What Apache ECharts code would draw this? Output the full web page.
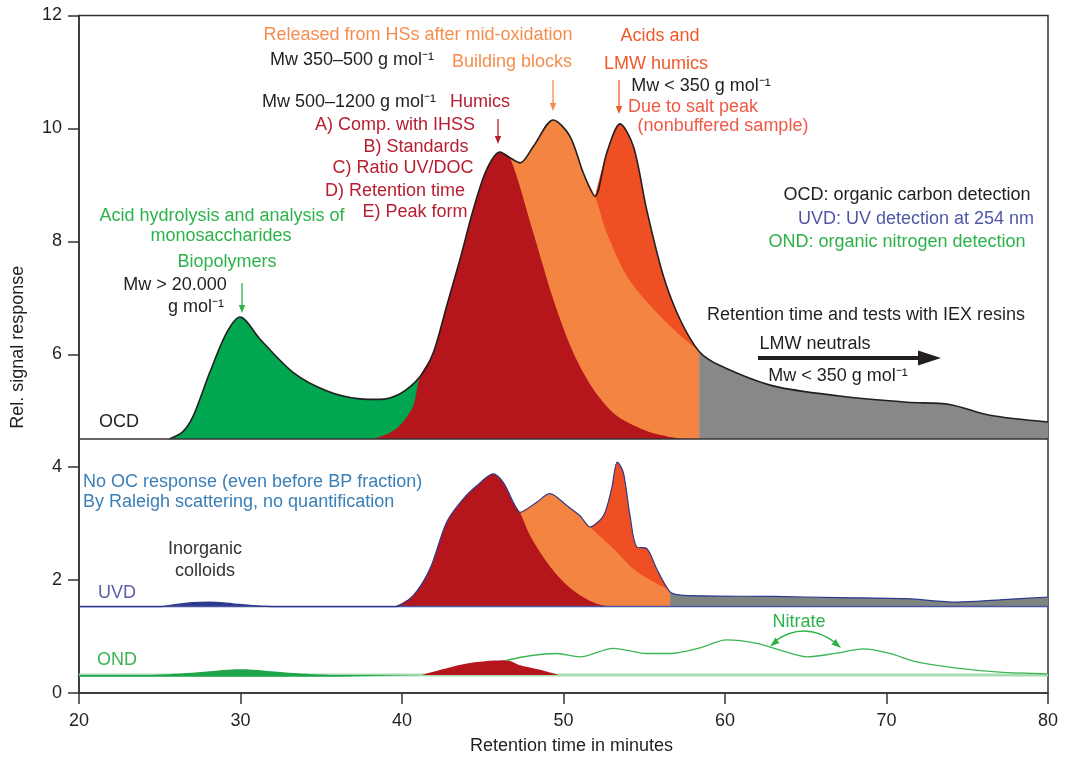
<!DOCTYPE html>
<html>
<head>
<meta charset="utf-8">
<title>OCD / UVD / OND chromatogram</title>
<script src="https://cdn.jsdelivr.net/npm/echarts@6/dist/echarts.min.js"></script>
<style>
  html, body { margin: 0; background: #fff; }
  #chart { width: 1072px; height: 760px; }
</style>
</head>
<body>
<div id="chart"></div>
<script>
// baselines of the three detector traces
const ocdBase = 4.5;
const uvdBase = 1.53;
const ondBase = 0.32;

// OCD trace (organic carbon)
const ocdTime = [25.6, 26.4, 27.06, 28.1, 29.16, 29.97, 31.2, 33.25, 35.36, 37.4, 38.6, 39.88, 41.11, 41.94, 42.77, 43.59, 44.41, 45.24, 46.07, 46.69, 47.31, 48.13, 49.37, 50.4, 51.23, 51.95, 52.68, 53.5, 54.33, 55.15, 56.18, 57.21, 58.4, 59.69, 62.97, 67.1, 71.27, 73.9, 76.4, 80];
const ocdSignal = [4.5, 4.62, 4.9, 5.68, 6.39, 6.66, 6.27, 5.68, 5.35, 5.21, 5.2, 5.3, 5.6, 6.03, 6.86, 7.68, 8.56, 9.27, 9.58, 9.48, 9.39, 9.68, 10.15, 9.86, 9.21, 8.8, 9.57, 10.08, 9.68, 8.56, 7.39, 6.62, 6.05, 5.8, 5.44, 5.26, 5.15, 5.11, 4.92, 4.8];
// fraction borders inside the OCD peak
const ocdHumicsStartTime = [38.2, 39.2, 39.9, 40.7];
const ocdHumicsStartSignal = [4.5, 4.6, 4.75, 5.09];
const ocdHumicsEndTime = [48.13, 49.37, 50.6, 51.85, 53.3, 55.36, 57.4];
const ocdHumicsEndSignal = [8.15, 6.97, 6.03, 5.38, 4.91, 4.62, 4.5];
const ocdBlocksEndTime = [52.68, 53.91, 55.56, 57.01, 58.24];
const ocdBlocksEndSignal = [8.15, 7.39, 6.8, 6.39, 6.09];
const ocdCut = { bio: 41.11, humics: 46.69, blocks: 51.95, neutrals: 58.4 };

// UVD trace (UV 254 nm)
const uvdTime = [20, 25.0, 25.84, 27, 28.1, 29.5, 31.2, 33, 39.57, 40.7, 41.73, 42.77, 43.8, 44.63, 45.65, 46.27, 46.89, 47.3, 48.34, 49.16, 50.2, 51.02, 51.64, 52.47, 52.98, 53.33, 53.7, 54.12, 54.53, 55.15, 55.77, 56.6, 57.42, 62.99, 67, 71.25, 74.35, 77, 80];
const uvdSignal = [1.53, 1.53, 1.56, 1.6, 1.61, 1.58, 1.54, 1.53, 1.53, 1.73, 2.2, 3.03, 3.44, 3.67, 3.88, 3.73, 3.38, 3.2, 3.38, 3.53, 3.32, 3.14, 2.94, 3.14, 3.62, 4.09, 3.91, 3.14, 2.59, 2.56, 2.2, 1.79, 1.73, 1.71, 1.69, 1.67, 1.61, 1.65, 1.7];
const uvdHumicsEndTime = [47.93, 48.96, 49.99, 51.02, 52.06, 52.88];
const uvdHumicsEndSignal = [2.79, 2.32, 1.97, 1.73, 1.58, 1.53];
const uvdBlocksEndTime = [53.08, 54.32, 55.56, 56.39];
const uvdBlocksEndSignal = [2.56, 2.2, 1.97, 1.85];
const uvdCut = { colloidsFrom: 25.0, colloidsTo: 33, humicsFrom: 39.57, humics: 47.3, blocks: 51.64, neutrals: 56.6 };

// OND trace (organic nitrogen)
const ondTime = [20, 24, 27, 30, 33, 36, 41.22, 42.77, 44.2, 45.45, 46.48, 47.93, 49.58, 51.02, 53.08, 55.15, 56.6, 58.45, 60.1, 61.96, 63.5, 65.06, 66.8, 68.57, 70.2, 71.87, 74.35, 77.0, 80];
const ondSignal = [0.32, 0.32, 0.36, 0.42, 0.36, 0.32, 0.32, 0.44, 0.53, 0.57, 0.58, 0.66, 0.7, 0.64, 0.79, 0.7, 0.7, 0.8, 0.94, 0.88, 0.75, 0.64, 0.7, 0.78, 0.7, 0.55, 0.44, 0.37, 0.34];
const ondHumicsEndTime = [47.31, 48.55, 49.68];
const ondHumicsEndSignal = [0.49, 0.41, 0.32];
const ondCut = { bio: 41.22, humicsTop: 46.48 };

const timeTicks = [20, 30, 40, 50, 60, 70, 80];

const C = {
  ink: '#231f20',
  green: '#00a650',
  red: '#b5161b',
  orange: '#f38442',
  acid: '#ee5024',
  gray: '#878888',
  uvGray: '#7e8581',
  navy: '#2e3a8c',
  textOrange: '#f68d4e',
  textAcid: '#f05a2a',
  textSalt: '#ef5a46',
  textRed: '#b81d30',
  textGreen: '#2db24b',
  textBlue: '#3a7fb8',
  textUvd: '#5058a6'
};
const FONT = '18px "Liberation Sans", Arial, Helvetica, sans-serif';

const pairs = (t, v) => t.map((x, i) => [x, v[i]]);
const part = (t, v, from, to) => pairs(t, v).filter(p => p[0] >= from && p[0] <= to);

let zi = 1;
function area(name, data, color, base) {
  return {
    name, type: 'line', data, smooth: 0.3, showSymbol: false, silent: true,
    lineStyle: { width: 0 },
    areaStyle: { color, opacity: 1, origin: base },
    z: zi++
  };
}
function trace(name, data, color, width) {
  return {
    name, type: 'line', data, smooth: 0.3, showSymbol: false, silent: true,
    lineStyle: { color, width }, z: zi++
  };
}

const series = [
  // OCD fractions
  area('Biopolymers', part(ocdTime, ocdSignal, 0, ocdCut.bio), C.green, ocdBase),
  area('Acids', part(ocdTime, ocdSignal, ocdCut.blocks, ocdCut.neutrals), C.acid, ocdBase),
  area('Building blocks', part(ocdTime, ocdSignal, ocdCut.humics, ocdCut.blocks)
    .concat(pairs(ocdBlocksEndTime, ocdBlocksEndSignal), [[ocdCut.neutrals, ocdSignal[ocdTime.indexOf(ocdCut.neutrals)]]]), C.orange, ocdBase),
  area('Humics', pairs(ocdHumicsStartTime, ocdHumicsStartSignal)
    .concat(part(ocdTime, ocdSignal, ocdCut.bio, ocdCut.humics), pairs(ocdHumicsEndTime, ocdHumicsEndSignal)), C.red, ocdBase),
  area('LMW neutrals', part(ocdTime, ocdSignal, ocdCut.neutrals, 80), C.gray, ocdBase),
  trace('OCD', pairs(ocdTime, ocdSignal), C.ink, 1.6),

  // UVD fractions
  area('Inorganic colloids', part(uvdTime, uvdSignal, uvdCut.colloidsFrom, uvdCut.colloidsTo), '#2b3990', uvdBase),
  area('UVD acids', part(uvdTime, uvdSignal, uvdCut.blocks, uvdCut.neutrals), C.acid, uvdBase),
  area('UVD building blocks', part(uvdTime, uvdSignal, uvdCut.humics, uvdCut.blocks)
    .concat(pairs(uvdBlocksEndTime, uvdBlocksEndSignal), [[uvdCut.neutrals, uvdSignal[uvdTime.indexOf(uvdCut.neutrals)]]]), C.orange, uvdBase),
  area('UVD humics', part(uvdTime, uvdSignal, uvdCut.humicsFrom, uvdCut.humics)
    .concat(pairs(uvdHumicsEndTime, uvdHumicsEndSignal)), C.red, uvdBase),
  area('UVD neutrals', part(uvdTime, uvdSignal, uvdCut.neutrals, 80), C.uvGray, uvdBase),
  trace('UVD base', [[20, uvdBase], [80, uvdBase]], '#4a55a2', 1.5),
  trace('UVD', pairs(uvdTime, uvdSignal), C.navy, 1.2),

  // OND
  trace('OND base', [[20, ondBase], [80, ondBase]], '#a9dbb2', 3),
  area('OND biopolymers', part(ondTime, ondSignal, 0, ondCut.bio), '#1fa64c', ondBase - 0.03),
  area('OND humics', part(ondTime, ondSignal, ondCut.bio, ondCut.humicsTop)
    .concat(pairs(ondHumicsEndTime, ondHumicsEndSignal)), C.red, ondBase),
  trace('OND', part(ondTime, ondSignal, ondCut.humicsTop, 80), '#3db552', 1.3),

  // separator between OCD and UVD/OND panels
  trace('separator', [[20, ocdBase], [80, ocdBase]], '#333', 1.5)
];

function label(text, x, y, fill, align) {
  return {
    type: 'text', silent: true, z: 100,
    style: {
      text, x, y, fill, font: FONT,
      textAlign: align || 'center', align: align || 'center',
      textVerticalAlign: 'middle', verticalAlign: 'middle'
    }
  };
}
function downArrow(x, y1, y2, color) {
  return [
    { type: 'line', silent: true, z: 100, shape: { x1: x, y1, x2: x, y2: y2 - 6 }, style: { stroke: color, lineWidth: 1.3 } },
    { type: 'polygon', silent: true, z: 100, shape: { points: [[x - 3.2, y2 - 8], [x + 3.2, y2 - 8], [x, y2]] }, style: { fill: color } }
  ];
}

const graphics = [
  label('Released from HSs after mid-oxidation', 418, 35, C.textOrange),
  label('Mw 350–500 g mol⁻¹', 352, 60, C.ink),
  label('Building blocks', 512, 62, C.textOrange),
  label('Mw 500–1200 g mol⁻¹', 349, 102, C.ink),
  label('Humics', 480, 102, C.textRed),
  label('A) Comp. with IHSS', 395, 125, C.textRed),
  label('B) Standards', 416, 147, C.textRed),
  label('C) Ratio UV/DOC', 403, 168, C.textRed),
  label('D) Retention time', 395, 191, C.textRed),
  label('E) Peak form', 415, 212, C.textRed),
  label('Acid hydrolysis and analysis of', 222, 216, C.textGreen),
  label('monosaccharides', 221, 236, C.textGreen),
  label('Biopolymers', 227, 262, C.textGreen),
  label('Mw > 20.000', 175, 285, C.ink),
  label('g mol⁻¹', 196, 307, C.ink),
  label('OCD', 119, 422, C.ink),
  label('Acids and', 660, 36, C.textAcid),
  label('LMW humics', 656, 64, C.textAcid),
  label('Mw < 350 g mol⁻¹', 701, 86, C.ink),
  label('Due to salt peak', 693, 107, C.textSalt),
  label('(nonbuffered sample)', 723, 126, C.textSalt),
  label('OCD: organic carbon detection', 907, 195, C.ink),
  label('UVD: UV detection at 254 nm', 916, 219, C.textUvd),
  label('OND: organic nitrogen detection', 897, 242, C.textGreen),
  label('Retention time and tests with IEX resins', 866, 315, C.ink),
  label('LMW neutrals', 815, 344, C.ink),
  label('Mw < 350 g mol⁻¹', 838, 376, C.ink),
  label('No OC response (even before BP fraction)', 83, 482, C.textBlue, 'left'),
  label('By Raleigh scattering, no quantification', 83, 502, C.textBlue, 'left'),
  label('Inorganic', 205, 549, '#333'),
  label('colloids', 205, 571, '#333'),
  label('UVD', 117, 593, '#5b5ea6'),
  label('OND', 117, 660, '#3cb550'),
  label('Nitrate', 799, 622, C.textGreen),
  ...downArrow(242, 283, 313, C.textGreen),
  ...downArrow(498, 119, 144, C.textRed),
  ...downArrow(553, 80, 111, C.textOrange),
  ...downArrow(619, 80, 114, C.textAcid),
  // LMW neutrals arrow
  { type: 'line', silent: true, z: 100, shape: { x1: 758, y1: 358, x2: 922, y2: 358 }, style: { stroke: C.ink, lineWidth: 4 } },
  { type: 'polygon', silent: true, z: 100, shape: { points: [[918, 350.5], [941, 358], [918, 365.5]] }, style: { fill: C.ink } },
  // nitrate double arrow
  { type: 'bezierCurve', silent: true, z: 100, shape: { x1: 775, y1: 641, x2: 836, y2: 643, cpx1: 805, cpy1: 620 }, style: { stroke: C.textGreen, lineWidth: 1.3, fill: 'none' } },
  { type: 'polygon', silent: true, z: 100, shape: { points: [[770, 646.5], [775.5, 637.5], [779.5, 643]] }, style: { fill: C.textGreen } },
  { type: 'polygon', silent: true, z: 100, shape: { points: [[841, 648], [831.5, 644.5], [835.7, 638.9]] }, style: { fill: C.textGreen } }
];

const chart = echarts.init(document.getElementById('chart'), null, { renderer: 'canvas' });
chart.setOption({
  backgroundColor: '#fff',
  animation: false,
  textStyle: { fontFamily: '"Liberation Sans", Arial, Helvetica, sans-serif' },
  grid: { left: 79, right: 24, top: 15.5, bottom: 65.3, show: true, borderColor: '#333', borderWidth: 1.5, backgroundColor: 'transparent' },
  xAxis: {
    type: 'value', min: timeTicks[0], max: timeTicks[timeTicks.length - 1], interval: 10,
    name: 'Retention time in minutes', nameLocation: 'middle', nameGap: 44,
    nameTextStyle: { fontSize: 18, color: C.ink, padding: [0, 0, 0, 16] },
    axisLine: { lineStyle: { color: '#333', width: 1.5 } },
    axisTick: { length: 11, lineStyle: { color: '#333', width: 1.5 } },
    axisLabel: { fontSize: 18, color: C.ink, margin: 19 },
    splitLine: { show: false }
  },
  yAxis: {
    type: 'value', min: 0, max: 12, interval: 2,
    name: 'Rel. signal response', nameLocation: 'middle', nameGap: 52,
    nameTextStyle: { fontSize: 18, color: C.ink, padding: [0, 0, 0, 14] },
    axisLine: { lineStyle: { color: '#333', width: 1.5 } },
    axisTick: { length: 11, lineStyle: { color: '#333', width: 1.5 } },
    axisLabel: { fontSize: 18, color: C.ink, margin: 17 },
    splitLine: { show: false }
  },
  series,
  graphic: graphics
});
</script>
</body>
</html>
